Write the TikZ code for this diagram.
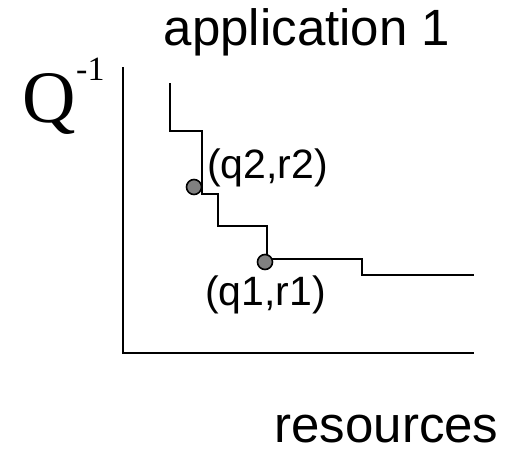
\documentclass[tikz,border=0pt]{standalone}
\usepackage{fontspec}
\setmainfont{Liberation Sans}
\newfontfamily\serifQ{Liberation Serif}
\begin{document}
\begin{tikzpicture}[x=1pt,y=-1pt,
  axis/.style={line width=2.2pt},
  curve/.style={line width=2.2pt, line join=miter},
  pt/.style={circle, fill=black!50, draw=black, line width=1.6pt, minimum size=15pt, inner sep=0pt},
  big/.style={inner sep=0pt, text depth=0pt, font=\fontsize{51}{51}\selectfont},
  lbl/.style={inner sep=0pt, font=\fontsize{41}{41}\selectfont}]
\useasboundingbox (0,0) rectangle (516,451);
% axes
\coordinate (ytop) at (122.7,67);
\coordinate (orig) at (122.7,353);
\coordinate (xend) at (474,353);
\draw[axis] (ytop) -- (orig) -- (xend);
% step curve
\coordinate (c0) at (170,83);
\coordinate (c9) at (474,275);
\draw[curve] (c0) -- (170,131) -- (202,131) -- (202,194) -- (218,194) -- (218,226)
  -- (267,226) -- (267,259) -- (362,259) -- (362,275) -- (c9);
% points
\node[pt] (p2) at (194,187) {};
\node[pt] (p1) at (265,262) {};
% labels
\node[lbl, anchor=base west] (l2) at (207,178) {(q2,r2)};
\node[lbl, anchor=base west] (l1) at (205,305) {(q1,r1)};
\node[big, anchor=base] (title) at (307,45) {application 1};
\node[big, anchor=base] (xlab) at (386.5,442) {resources};
\node[inner sep=0pt, anchor=base west, font=\serifQ\fontsize{74}{74}\selectfont] (Q) at (22,122) {Q};
\node[inner sep=0pt, anchor=base west, font=\serifQ\fontsize{34}{34}\selectfont] (Qe) at (76,80) {-1};
\end{tikzpicture}
\end{document}
